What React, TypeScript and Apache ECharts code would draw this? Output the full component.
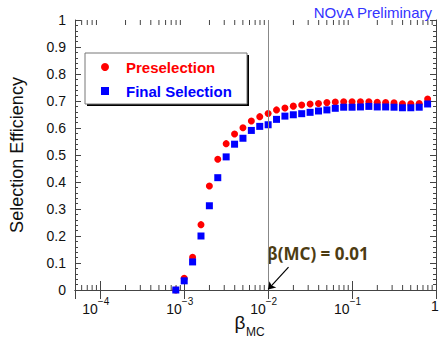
import React, { useEffect, useRef } from "react";
import * as echarts from "echarts";

// beta_MC bin centres
const betaValues = [
  0.000794, 0.001, 0.001259, 0.001585, 0.001995, 0.002512, 0.003162, 0.003981,
  0.005012, 0.00631, 0.007943, 0.01, 0.01259, 0.01585, 0.01995, 0.02512,
  0.03162, 0.03981, 0.05012, 0.0631, 0.07943, 0.1, 0.1259, 0.1585, 0.1995,
  0.2512, 0.3162, 0.3981, 0.5012, 0.631, 0.7943,
];
const preselection = [
  0.0, 0.043, 0.121, 0.242, 0.385, 0.484, 0.542, 0.578, 0.601, 0.626, 0.642,
  0.654, 0.667, 0.674, 0.681, 0.685, 0.689, 0.691, 0.694, 0.696, 0.697, 0.697,
  0.697, 0.697, 0.695, 0.694, 0.693, 0.69, 0.69, 0.691, 0.707,
];
const finalSelection = [
  0.0, 0.034, 0.104, 0.2, 0.312, 0.416, 0.493, 0.54, 0.562, 0.591, 0.606,
  0.612, 0.632, 0.644, 0.649, 0.653, 0.658, 0.663, 0.667, 0.673, 0.677, 0.677,
  0.678, 0.68, 0.678, 0.678, 0.677, 0.675, 0.675, 0.677, 0.689,
];
const xMajorTicks = [1e-4, 1e-3, 1e-2, 1e-1, 1];
const xMajorLabels: Record<string, string> = {
  "0.0001": "{b|10}{s|−4}",
  "0.001": "{b|10}{s|−3}",
  "0.01": "{b|10}{s|−2}",
  "0.1": "{b|10}{s|−1}",
  "1": "{one|1}",
};
const seriesNames = ["Preselection", "Final Selection"];
const cutValue = 0.01;

const X_MIN = 5e-5;
const X_MAX = 1;

function minorTickValues(): number[][] {
  const out: number[][] = [];
  for (let e = -5; e < 0; e++) {
    for (let k = 2; k <= 9; k++) {
      const v = k * Math.pow(10, e);
      if (v > X_MIN * 1.0001 && v < X_MAX) out.push([v, 0.5]);
    }
  }
  return out;
}

export default function App() {
  const ref = useRef<HTMLDivElement>(null);
  useEffect(() => {
    if (!ref.current) return;
    const chart = echarts.init(ref.current, undefined, { renderer: "svg" });
    const font = "Liberation Sans";
    const axisColor = "#444";
    const toPairs = (ys: number[]) => betaValues.map((x, i) => [x, ys[i]]);
    chart.setOption({
      animation: false,
      grid: { left: 66, right: 7, top: 20, bottom: 52 },
      xAxis: [
        {
          type: "log",
          logBase: 10,
          min: X_MIN,
          max: X_MAX,
          position: "bottom",
          axisLine: { show: true, lineStyle: { color: axisColor, width: 1 } },
          axisTick: { show: true, inside: true, length: 9, lineStyle: { color: axisColor } },
          splitLine: { show: false },
          axisLabel: {
            showMinLabel: false,
            margin: 6,
            fontFamily: font,
            color: "#111",
            padding: [0, 9, 0, 0],
            formatter: (v: number) => {
              const key = String(Number(v.toPrecision(3)));
              return xMajorTicks.some((t) => Math.abs(t - v) / t < 1e-6)
                ? xMajorLabels[key] || ""
                : "";
            },
            rich: {
              b: { fontSize: 14, fontFamily: font, color: "#111", lineHeight: 20, verticalAlign: "bottom" },
              s: { fontSize: 10, fontFamily: font, color: "#111", verticalAlign: "top", lineHeight: 12 },
              one: { fontSize: 14, fontFamily: font, color: "#111", lineHeight: 20, padding: [0, 0, 0, 7] },
            },
          },
        },
        {
          type: "log",
          logBase: 10,
          min: X_MIN,
          max: X_MAX,
          position: "top",
          axisLine: { show: true, lineStyle: { color: axisColor, width: 1 } },
          axisTick: { show: true, inside: true, length: 9, lineStyle: { color: axisColor } },
          axisLabel: { show: false },
          splitLine: { show: false },
        },
      ],
      yAxis: [
        {
          type: "value",
          min: 0,
          max: 1,
          interval: 0.1,
          position: "left",
          name: "Selection Efficiency",
          nameLocation: "middle",
          nameGap: 49,
          nameTextStyle: { fontFamily: font, fontSize: 18, color: "#111" },
          axisLine: { show: true, lineStyle: { color: axisColor, width: 1 } },
          axisTick: { show: true, inside: true, length: 6, lineStyle: { color: axisColor } },
          minorTick: { show: true, splitNumber: 5, length: 3, lineStyle: { color: axisColor } },
          splitLine: { show: false },
          axisLabel: {
            margin: 9,
            fontFamily: font,
            fontSize: 14,
            color: "#111",
            formatter: (v: number) => String(Math.round(v * 10) / 10),
          },
        },
        {
          type: "value",
          min: 0,
          max: 1,
          interval: 0.1,
          position: "right",
          axisLine: { show: true, lineStyle: { color: axisColor, width: 1 } },
          axisTick: { show: true, inside: true, length: 6, lineStyle: { color: axisColor } },
          minorTick: { show: true, splitNumber: 5, length: 3, lineStyle: { color: axisColor } },
          splitLine: { show: false },
          axisLabel: { show: false },
        },
      ],
      legend: {
        show: true,
        orient: "vertical",
        left: 96,
        top: 54,
        itemWidth: 8,
        itemHeight: 8,
        itemGap: 8,
        z: 10,
        data: [
          { name: seriesNames[0], textStyle: { color: "#ff0000" } },
          { name: seriesNames[1], textStyle: { color: "#0000ff" } },
        ],
        textStyle: { fontFamily: font, fontSize: 15, fontWeight: "bold", lineHeight: 16, padding: [0, 0, 0, 12] },
      },
      graphic: [
        { type: "rect", z: 1, shape: { x: 87, y: 55, width: 162, height: 51 }, style: { fill: "#000" } },
        { type: "rect", z: 2, shape: { x: 85, y: 53, width: 162, height: 51 }, style: { fill: "#fff", stroke: "#777", lineWidth: 1 } },
        {
          type: "text",
          z: 5,
          style: { text: "NOvA Preliminary", x: 432, y: 12, align: "right", verticalAlign: "middle", font: "15px 'Liberation Sans'", fill: "#3333ff" },
        },
        {
          type: "text",
          z: 5,
          style: { text: "β(MC) = 0.01", x: 267, y: 253, align: "left", verticalAlign: "middle", font: "bold 17px 'Noto Sans'", fill: "#4d3c12" },
        },
        {
          type: "text",
          z: 5,
          style: { text: "β", x: 240, y: 322, align: "center", verticalAlign: "middle", font: "19px 'Liberation Sans'", fill: "#111" },
        },
        {
          type: "text",
          z: 5,
          style: { text: "MC", x: 246, y: 332, align: "left", verticalAlign: "middle", font: "12px 'Liberation Sans'", fill: "#111" },
        },
      ],
      series: [
        {
          name: "minorTicks",
          type: "custom",
          silent: true,
          xAxisIndex: 0,
          yAxisIndex: 0,
          data: minorTickValues(),
          renderItem: (params: any, api: any) => {
            const x = api.coord([api.value(0), 0.5])[0];
            const cs = params.coordSys;
            const st = { stroke: axisColor, lineWidth: 1 };
            return {
              type: "group",
              children: [
                { type: "line", shape: { x1: x, y1: cs.y + cs.height, x2: x, y2: cs.y + cs.height - 5 }, style: st },
                { type: "line", shape: { x1: x, y1: cs.y, x2: x, y2: cs.y + 5 }, style: st },
              ],
            };
          },
          z: 1,
        },
        {
          name: seriesNames[0],
          type: "scatter",
          symbol: "circle",
          symbolSize: 7,
          itemStyle: { color: "#ff0000", opacity: 1 },
          data: toPairs(preselection),
          z: 3,
          markLine: {
            silent: true,
            symbol: ["none", "none"],
            label: { show: false },
            lineStyle: { color: "#888", width: 1, type: "solid" },
            data: [{ xAxis: cutValue }],
          },
        },
        {
          name: seriesNames[1],
          type: "scatter",
          symbol: "rect",
          symbolSize: 7,
          itemStyle: { color: "#0000ff", opacity: 1 },
          data: toPairs(finalSelection),
          z: 4,
          markLine: {
            silent: true,
            symbol: ["none", "arrow"],
            symbolSize: 7,
            label: { show: false },
            lineStyle: { color: "#000", width: 1.2, type: "solid" },
            data: [[{ coord: [0.0175, 0.085] }, { coord: [cutValue, 0.002] }]],
          },
        },
      ],
    });
    return () => chart.dispose();
  }, []);
  return <div ref={ref} style={{ width: 443, height: 342, position: "absolute", left: 0, top: 0 }} />;
}
